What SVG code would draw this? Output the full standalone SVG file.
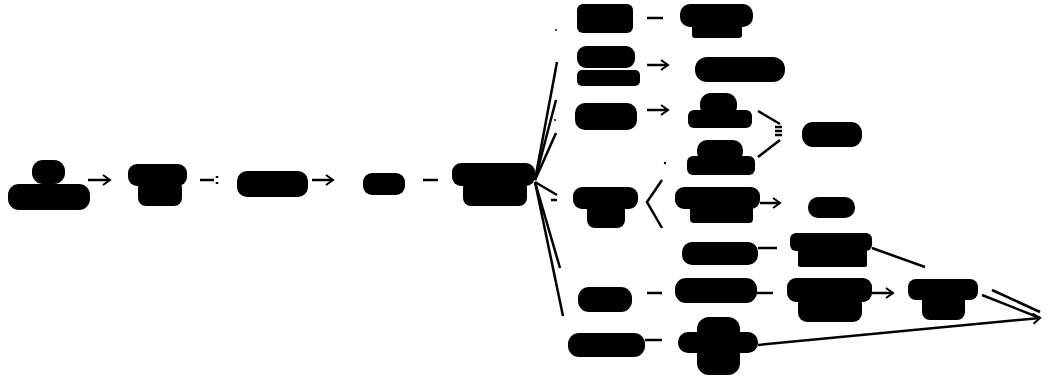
<svg xmlns="http://www.w3.org/2000/svg" width="1046" height="381" viewBox="0 0 1046 381">
<defs>
<marker id="arr" markerUnits="userSpaceOnUse" markerWidth="10" markerHeight="12" refX="8" refY="6" orient="auto">
<path d="M1,1 L8,6 L1,11" fill="none" stroke="#000" stroke-width="2"/>
</marker>
<style>
.b{fill:#000}
.e{stroke:#000;stroke-width:2.5;fill:none}
.a{marker-end:url(#arr)}
</style>
</defs>
<rect width="1046" height="381" fill="#fff"/>
<g id="connectors">
<path class="e a" d="M88,180 L110,180"/>
<path class="e" d="M200,180 L214,180"/>
<path class="e" d="M217,176 L217,178 M217,182 L217,184"/>
<path class="e a" d="M312,180 L333,180"/>
<path class="e" d="M423,180 L438,180"/>
<path class="e" d="M535,180 L557,62"/>
<path class="e" d="M535,180 L556,100"/>
<path class="e" d="M535,180 L556,133"/>
<path class="e" d="M535,182 L557,195"/>
<path class="e" d="M535,182 L560,268"/>
<path class="e" d="M535,182 L563,316"/>
<path class="e" d="M551,200 L557,200"/>
<circle class="b" cx="556" cy="30" r="1"/>
<circle class="b" cx="555" cy="120" r="1"/>
<path class="e" d="M647,18 L663,18"/>
<path class="e a" d="M647,65 L668,65"/>
<path class="e a" d="M647,110 L668,110"/>
<path class="e" d="M758,111 L780,124"/>
<path class="e" d="M758,157 L780,140"/>
<path class="e" d="M775,127 L782,127 M775,131 L782,131 M775,135 L782,135"/>
<path class="e" d="M662,180 L647,202 L662,228"/>
<circle class="b" cx="665" cy="163" r="1.2"/>
<path class="e a" d="M760,203 L780,203"/>
<path class="e" d="M758,248 L777,248"/>
<path class="e" d="M872,248 L925,267"/>
<path class="e" d="M647,293 L662,293"/>
<path class="e" d="M757,293 L773,293"/>
<path class="e a" d="M872,293 L893,293"/>
<path class="e" d="M982,295 L1040,318"/>
<path class="e" d="M992,290 L1040,312"/>
<path class="e" d="M645,340 L662,340"/>
<path class="e a" d="M758,345 L1040,318"/>
</g>
<g id="nA"><rect class="b" x="32" y="160" width="33" height="24" rx="11"/><rect class="b" x="8" y="184" width="82" height="26" rx="11"/></g>
<g id="nB"><rect class="b" x="128" y="164" width="59" height="22" rx="9"/><rect class="b" x="138" y="180" width="44" height="26" rx="8"/></g>
<g id="nC"><rect class="b" x="237" y="171" width="71" height="26" rx="10"/></g>
<g id="nD"><rect class="b" x="363" y="173" width="42" height="22" rx="9"/></g>
<g id="nE"><rect class="b" x="452" y="163" width="83" height="23" rx="9"/><rect class="b" x="463" y="180" width="64" height="26" rx="8"/></g>
<g id="n1"><rect class="b" x="577" y="4" width="56" height="29" rx="6"/></g>
<g id="n1b"><rect class="b" x="680" y="4" width="73" height="23" rx="10"/><rect class="b" x="692" y="20" width="50" height="18" rx="3"/></g>
<g id="n2"><rect class="b" x="577" y="46" width="58" height="22" rx="9"/><rect class="b" x="577" y="70" width="63" height="16" rx="5"/></g>
<g id="n2b"><rect class="b" x="695" y="57" width="90" height="25" rx="12"/></g>
<g id="n3"><rect class="b" x="575" y="103" width="62" height="27" rx="10"/></g>
<g id="n3a"><rect class="b" x="700" y="93" width="37" height="24" rx="11"/><rect class="b" x="688" y="110" width="64" height="18" rx="6"/></g>
<g id="n3b"><rect class="b" x="697" y="140" width="46" height="22" rx="10"/><rect class="b" x="687" y="156" width="68" height="19" rx="6"/></g>
<g id="n3c"><rect class="b" x="802" y="122" width="60" height="25" rx="11"/></g>
<g id="n4"><rect class="b" x="573" y="187" width="65" height="22" rx="9"/><rect class="b" x="587" y="200" width="38" height="28" rx="8"/></g>
<g id="n4b"><rect class="b" x="675" y="187" width="85" height="22" rx="9"/><rect class="b" x="690" y="200" width="63" height="23" rx="4"/></g>
<g id="n4c"><rect class="b" x="808" y="197" width="47" height="21" rx="10"/></g>
<g id="n5a"><rect class="b" x="682" y="242" width="76" height="23" rx="10"/></g>
<g id="n5b"><rect class="b" x="790" y="233" width="82" height="18" rx="6"/><rect class="b" x="798" y="248" width="69" height="19" rx="2"/></g>
<g id="n6"><rect class="b" x="578" y="287" width="54" height="25" rx="11"/></g>
<g id="n6a"><rect class="b" x="675" y="278" width="82" height="25" rx="11"/></g>
<g id="n6b"><rect class="b" x="787" y="278" width="85" height="24" rx="9"/><rect class="b" x="798" y="295" width="64" height="27" rx="9"/></g>
<g id="n6c"><rect class="b" x="908" y="279" width="70" height="21" rx="8"/><rect class="b" x="922" y="290" width="43" height="30" rx="8"/></g>
<g id="n7"><rect class="b" x="568" y="333" width="77" height="24" rx="11"/></g>
<g id="n7b"><rect class="b" x="678" y="332" width="80" height="21" rx="10"/><rect class="b" x="697" y="317" width="43" height="58" rx="12"/></g>
</svg>
